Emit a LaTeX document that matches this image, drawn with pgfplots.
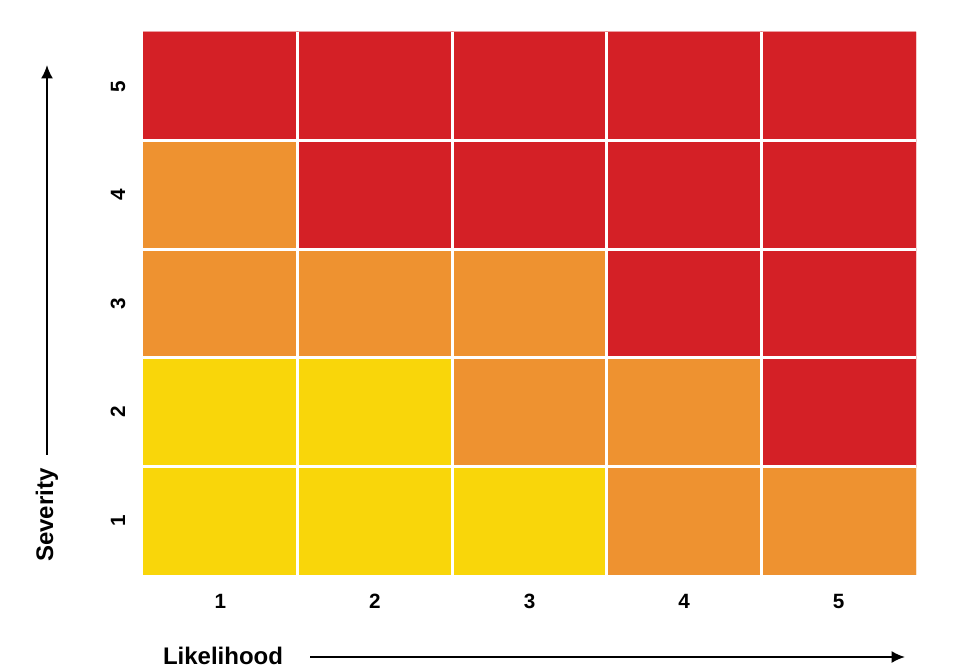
\documentclass[border=0pt]{standalone}
\usepackage{pgfplots}
\pgfplotsset{compat=1.18}
\usepackage{fontspec}
\setmainfont{Liberation Sans}
\usetikzlibrary{arrows.meta}

% risk levels: 0 = low (yellow), 1 = medium (orange), 2 = high (red)
\begin{document}
\begin{tikzpicture}
\useasboundingbox (-107.25pt,-71.25pt) rectangle (614.25pt,431.25pt);
\begin{axis}[
    at={(0,0)}, anchor=south west,
    scale only axis,
    width=579.75pt, height=407.25pt,
    xmin=0.5, xmax=5.5, ymin=0.5, ymax=5.5,
    axis line style={draw=none},
    tick style={draw=none},
    xtick={1,2,3,4,5}, xticklabels={1,2,3,4,5},
    ytick={1,2,3,4,5}, yticklabels={1,2,3,4,5},
    minor xtick={1.5,2.5,3.5,4.5},
    minor ytick={1.5,2.5,3.5,4.5},
    minor grid style={white, line width=2.2pt},
    grid=minor,
    axis on top,
    xticklabel style={font=\bfseries\fontsize{15.5}{18}\selectfont, anchor=center, yshift=-20pt},
    yticklabel style={font=\bfseries\fontsize{15.5}{18}\selectfont, anchor=center, xshift=-18.75pt, rotate=90},
    colormap={risk}{rgb255=(249,214,10) rgb255=(238,146,48) rgb255=(212,32,38)},
    point meta min=0, point meta max=2,
]
\addplot[matrix plot*, mesh/cols=5, point meta=explicit] table[meta=c] {
x y c
1 1 0
2 1 0
3 1 0
4 1 1
5 1 1
1 2 0
2 2 0
3 2 1
4 2 1
5 2 2
1 3 1
2 3 1
3 3 1
4 3 2
5 3 2
1 4 1
2 4 2
3 4 2
4 4 2
5 4 2
1 5 2
2 5 2
3 5 2
4 5 2
5 5 2
};
\end{axis}
\draw[line width=1.6pt, -{Latex[length=10pt,width=9pt]}] (-72pt,90pt) -- (-72pt,382.5pt);
\node[rotate=90, font=\bfseries\fontsize{18}{20}\selectfont] at (-72pt,45pt) {Severity};
\draw[line width=1.6pt, -{Latex[length=10pt,width=9pt]}] (125.25pt,-61.5pt) -- (571.5pt,-61.5pt);
\node[font=\bfseries\fontsize{18}{20}\selectfont] at (60pt,-61pt) {Likelihood};
\end{tikzpicture}
\end{document}
